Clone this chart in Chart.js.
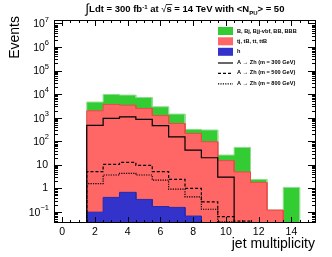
<!DOCTYPE html>
<html>
<head>
<meta charset="UTF-8">
<title>jet multiplicity</title>
<script src="https://cdn.jsdelivr.net/npm/chart.js"></script>
<style>
  html, body { margin: 0; padding: 0; background: #fff; }
  canvas { display: block; }
</style>
</head>
<body>
<canvas id="jets" width="332" height="257"></canvas>
<script>
// jet multiplicity bins (bin centres)
const jetBins = [2, 3, 4, 5, 6, 7, 8, 9, 10, 11, 12, 13, 14];

// stacked backgrounds (events per bin, each component on its own)
const higgsEvents = [0.098, 0.415, 0.68, 0.34, 0.17, 0.156, 0.067, 0, 0, 0, 0, 0, 0];
const topEvents   = [1960, 3650, 3400, 2470, 1230, 570, 215, 95, 15, 5, 1.8, 0.12, 0];
const bEvents     = [2640, 6050, 5700, 4780, 1670, 850, 105, 205, 11, 50, 0.6, 0, 1.1];

// A -> Zh signal, drawn on top, not stacked
const sig300 = [470, 930, 1090, 850, 460, 155, 42, 20, 3.0, 0, 0, 0, 0];
const sig500 = [5.1, 10.4, 12.7, 9.5, 5.1, 2.4, 1.0, 0.27, 0.063, 0.041, 0, 0, 0];
const sig800 = [1.6, 3.7, 4.3, 3.7, 2.25, 0.93, 0.44, 0.13, 0.038, 0, 0, 0, 0];

const xTicks = [0, 2, 4, 6, 8, 10, 12, 14];
const yDecades = [-1, 0, 1, 2, 3, 4, 5, 6, 7];

const Y_MIN = 0.034, Y_MAX = 1.4e7;
const FONT = '"Liberation Sans", Arial, Helvetica, sans-serif';

// histogram outline as step points
function steps(vals) {
  const pts = [{ x: jetBins[0] - 0.5, y: Y_MIN }];
  vals.forEach((v, i) => {
    const y = v > 0 ? v : Y_MIN;
    pts.push({ x: jetBins[i] - 0.5, y: y }, { x: jetBins[i] + 0.5, y: y });
  });
  pts.push({ x: jetBins[jetBins.length - 1] + 0.5, y: Y_MIN });
  return pts;
}

const stackH = higgsEvents.slice();
const stackT = topEvents.map((v, i) => v + stackH[i]);
const stackB = bEvents.map((v, i) => v + stackT[i]);

function area(label, vals, fill, line) {
  return { label: label, data: steps(vals), fill: 'start', backgroundColor: fill,
           borderColor: line, borderWidth: 1, pointRadius: 0, tension: 0 };
}
function outline(label, vals, dash) {
  return { label: label, data: steps(vals), fill: false, borderColor: '#000',
           borderWidth: 1.2, borderDash: dash, pointRadius: 0, tension: 0 };
}

// drawn last-to-first, so lines are on top
const datasets = [
  outline('A \u2192 Zh (m = 300 GeV)', sig300, []),
  outline('A \u2192 Zh (m = 500 GeV)', sig500, [3, 2]),
  outline('A \u2192 Zh (m = 800 GeV)', sig800, [1.2, 1.2]),
  area('h', stackH, '#3333cc', '#2a2aa8'),
  area('tj, tB, tt, ttB', stackT, '#ff6666', '#f04848'),
  area('B, Bj, Bjj-vbf, BB, BBB', stackB, '#33cc33', '#90dc90')
];

// frame, inward ticks, labels, titles and legend in ROOT style
const rootStyle = {
  id: 'rootStyle',
  afterDatasetsDraw(chart) {
    const ctx = chart.ctx, a = chart.chartArea;
    const x = chart.scales.x, y = chart.scales.y;
    ctx.save();
    ctx.strokeStyle = '#000';
    ctx.lineWidth = 1;
    ctx.strokeRect(a.left + 0.5, a.top + 0.5, a.right - a.left - 1, a.bottom - a.top - 1);

    ctx.beginPath();
    for (let v = 0; v <= 15; v += 0.5) {
      const px = Math.round(x.getPixelForValue(v)) + 0.5;
      const len = v % 2 === 0 ? 6 : 3;
      ctx.moveTo(px, a.bottom); ctx.lineTo(px, a.bottom - len);
      ctx.moveTo(px, a.top); ctx.lineTo(px, a.top + len);
    }
    for (let d = -2; d <= 7; d++) {
      for (let m = 1; m <= 9; m++) {
        const v = m * Math.pow(10, d);
        if (v < Y_MIN || v > Y_MAX) continue;
        const py = Math.round(y.getPixelForValue(v)) + 0.5;
        const len = m === 1 ? 8 : 4;
        ctx.moveTo(a.left, py); ctx.lineTo(a.left + len, py);
        ctx.moveTo(a.right, py); ctx.lineTo(a.right - len, py);
      }
    }
    ctx.stroke();

    // x tick labels
    ctx.fillStyle = '#000';
    ctx.font = '10.5px ' + FONT;
    ctx.textAlign = 'center';
    ctx.textBaseline = 'middle';
    xTicks.forEach(t => ctx.fillText(String(t), x.getPixelForValue(t), 232));

    // y tick labels with exponents
    yDecades.forEach(d => {
      const py = y.getPixelForValue(Math.pow(10, d));
      ctx.textAlign = 'right';
      if (d === 0 || d === 1) {
        ctx.font = '10.5px ' + FONT;
        ctx.fillText(d === 0 ? '1' : '10', 48, py);
      } else {
        const ex = String(d).replace('-', '\u2212');
        ctx.font = '7.5px ' + FONT;
        const w = ctx.measureText(ex).width;
        ctx.fillText(ex, 49, py - 4);
        ctx.font = '10.5px ' + FONT;
        ctx.fillText('10', 49 - w, py + 1);
      }
    });

    // axis titles
    ctx.font = '14px ' + FONT;
    ctx.textAlign = 'right';
    ctx.textBaseline = 'alphabetic';
    ctx.fillText('jet multiplicity', 315, 248);
    ctx.save();
    ctx.translate(19, 16);
    ctx.rotate(-Math.PI / 2);
    ctx.fillText('Events', 0, 0);
    ctx.restore();

    // title line
    const parts = [
      ['\u222b', 'normal 13px', 1], ['Ldt = 300 fb', 'bold 9.5px', 0], ['-1', 'bold 6px', -3.5],
      [' at ', 'bold 9.5px', 0], ['\u221a', 'normal 9.5px', 0], ['s', 'bold 9.5px', 0, true],
      [' = 14 TeV with <N', 'bold 9.5px', 0], ['PU', 'bold 6px', 2.5], ['> = 50', 'bold 9.5px', 0]
    ];
    ctx.textAlign = 'left';
    let total = 0;
    parts.forEach(p => { ctx.font = p[1] + ' ' + FONT; p.w = ctx.measureText(p[0]).width; total += p.w; });
    let tx = 185 - total / 2;
    parts.forEach(p => {
      ctx.font = p[1] + ' ' + FONT;
      ctx.fillText(p[0], tx, 12 + p[2]);
      if (p[3]) { ctx.fillRect(tx - 0.5, 4, p.w + 1, 0.8); }
      tx += p.w;
    });

    // legend
    const order = [5, 4, 3, 0, 1, 2];
    const rowY = [31, 41.3, 51.8, 62.5, 72.8, 83.3];
    ctx.font = 'bold 5.6px ' + FONT;
    ctx.textBaseline = 'middle';
    order.forEach((idx, r) => {
      const ds = chart.data.datasets[idx];
      const ry = rowY[r];
      if (ds.fill) {
        ctx.fillStyle = ds.backgroundColor;
        ctx.fillRect(218, ry - 4, 15, 8);
      } else {
        ctx.strokeStyle = '#000';
        ctx.lineWidth = 1.2;
        ctx.setLineDash(ds.borderDash);
        ctx.beginPath(); ctx.moveTo(218, ry + 0.5); ctx.lineTo(233, ry + 0.5); ctx.stroke();
        ctx.setLineDash([]);
      }
      ctx.fillStyle = '#000';
      ctx.fillText(ds.label, 237, ry);
    });
    ctx.restore();
  }
};

new Chart(document.getElementById('jets'), {
  type: 'line',
  data: { datasets: datasets },
  options: {
    responsive: false,
    animation: false,
    layout: { padding: { top: 20, right: 16, bottom: 0, left: 0 } },
    plugins: { legend: { display: false }, tooltip: { enabled: false }, title: { display: false } },
    scales: {
      x: { type: 'linear', min: -0.5, max: 15.5,
           ticks: { display: false }, grid: { display: false }, border: { display: false },
           afterFit: s => { s.height = 34; } },
      y: { type: 'logarithmic', min: Y_MIN, max: Y_MAX,
           ticks: { display: false }, grid: { display: false }, border: { display: false },
           afterFit: s => { s.width = 54; } }
    }
  },
  plugins: [rootStyle]
});
</script>
</body>
</html>
